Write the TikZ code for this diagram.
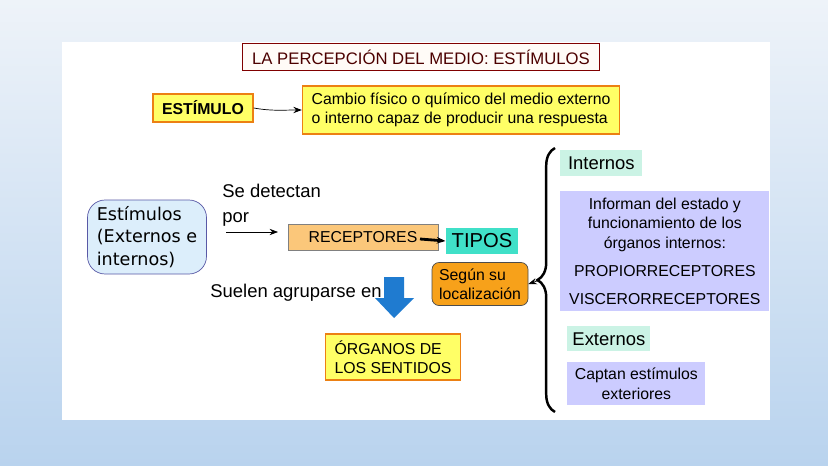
\documentclass[tikz,border=0pt]{standalone}
\usepackage{fontspec}
\setmainfont{Liberation Sans}
\newfontfamily\roundfont{DejaVu Sans}
\usepackage{xcolor}
\usetikzlibrary{positioning,arrows.meta,decorations.pathreplacing,calc}

\definecolor{sky}{HTML}{DCEEFB}
\definecolor{paleyel}{HTML}{FFFF66}
\definecolor{peach}{HTML}{FBC77A}
\definecolor{turq}{HTML}{40E0C8}
\definecolor{orng}{HTML}{F7A11A}
\definecolor{mint}{HTML}{CBF3E5}
\definecolor{lav}{HTML}{CCCCFF}
\definecolor{arrowblue}{HTML}{1F7BD0}
\definecolor{bgtop}{HTML}{EEF3F9}
\definecolor{bgbot}{HTML}{B9D3EE}

\begin{document}
\begin{tikzpicture}[
    x=0.02cm, y=-0.02cm,
    font=\fontsize{9}{11}\selectfont,
    >=Stealth,
    box/.style={draw=#1, rectangle, align=center, inner sep=3pt},
    yelbox/.style={box=orange!70!brown, fill=paleyel, line width=0.8pt},
    tagbox/.style={rectangle, fill=mint, anchor=north west, inner sep=0pt},
    infobox/.style={rectangle, fill=lav, anchor=north west, inner sep=0pt, align=center}
]
% fondo
\shade[top color=bgtop, bottom color=bgbot] (0,0) rectangle (828,466);
\fill[white] (62,42) rectangle (770,420);
\useasboundingbox (0,0) rectangle (828,466);

% titulo
\node[box=red!50!black, fill=orange!3, line width=0.8pt, minimum width=357*0.02cm, minimum height=27*0.02cm,
  font=\fontsize{9.5}{11}\selectfont, text=black!70!red] (title) at (421,57) {LA PERCEPCIÓN DEL MEDIO: ESTÍMULOS};

% estimulo
\node[yelbox, minimum width=100*0.02cm, minimum height=28*0.02cm, font=\fontsize{9}{11}\selectfont\bfseries] (estimulo) at (203,108) {ESTÍMULO};
\node[yelbox, minimum width=317*0.02cm, minimum height=48*0.02cm, align=left] (cambio) at (461,110)
  {Cambio físico o químico del medio externo\\o interno capaz de producir una respuesta};
\draw[->, thin] (estimulo.east) to[out=-10, in=180] (cambio.west);

% estimulos
\node[box=gray!70!blue, fill=sky, rounded corners=10pt, minimum width=119*0.02cm, minimum height=74*0.02cm,
  align=left, font=\roundfont\fontsize{10}{13}\selectfont] (estimulos) at (147,237) {Estímulos\\(Externos e\\internos)};
\node[anchor=north west, align=left, font=\fontsize{10.5}{14}\selectfont, inner sep=0pt] (detectan) at (222,184) {Se detectan\\por};
\coordinate (pin) at (226,232);
\coordinate (pout) at (278,232);
\draw[->, thin] (pin) -- (pout);

% receptores
\node[box=gray, fill=peach, minimum width=150*0.02cm, minimum height=26*0.02cm] (receptores) at (363,237) {RECEPTORES};
\node[rectangle, fill=turq, minimum width=68*0.02cm, minimum height=25*0.02cm, font=\fontsize{11.5}{13}\selectfont] (tipos) at (482,241) {TIPOS};
\coordinate (recout) at (420,239);
\draw[-{Stealth[length=5pt]}, line width=1.6pt] (recout) -- (tipos.west);
\node[box=gray!60!black, fill=orng, rounded corners=4pt, minimum width=96*0.02cm, minimum height=43*0.02cm, align=left] (segun) at (480,284) {Según su\\localización};

% agrupan
\node[anchor=west, font=\fontsize{10.5}{12}\selectfont, inner sep=0pt] (suelen) at (210,293) {Suelen agruparse en};
\fill[arrowblue] (384,277) -- (404,277) -- (404,298) -- (414,298) -- (394,318) -- (375,298) -- (384,298) -- cycle;
\node[yelbox, minimum width=135*0.02cm, minimum height=46*0.02cm, align=left] (organos) at (393,357) {ÓRGANOS DE\\LOS SENTIDOS};

% tipos
\draw[decorate, decoration={brace, amplitude=10pt}, line width=1.4pt] (555,412) -- (555,148);
\coordinate (brace) at (540,280);
\draw[->, thin] (brace) -- (segun.east);
\node[tagbox, minimum width=82*0.02cm, minimum height=26*0.02cm, font=\fontsize{10.5}{12}\selectfont] (internos) at (560,150) {Internos};
\node[infobox, minimum width=209*0.02cm, minimum height=120*0.02cm] (informan) at (560,191)
  {Informan del estado y\\funcionamiento de los\\órganos internos:\\[5pt]PROPIORRECEPTORES\\[5pt]VISCERORRECEPTORES};
\node[tagbox, minimum width=83*0.02cm, minimum height=25*0.02cm, font=\fontsize{10.5}{12}\selectfont] (externos) at (567,326) {Externos};
\node[infobox, minimum width=138*0.02cm, minimum height=43*0.02cm] (captan) at (567,362) {Captan estímulos\\exteriores};
\end{tikzpicture}
\end{document}
